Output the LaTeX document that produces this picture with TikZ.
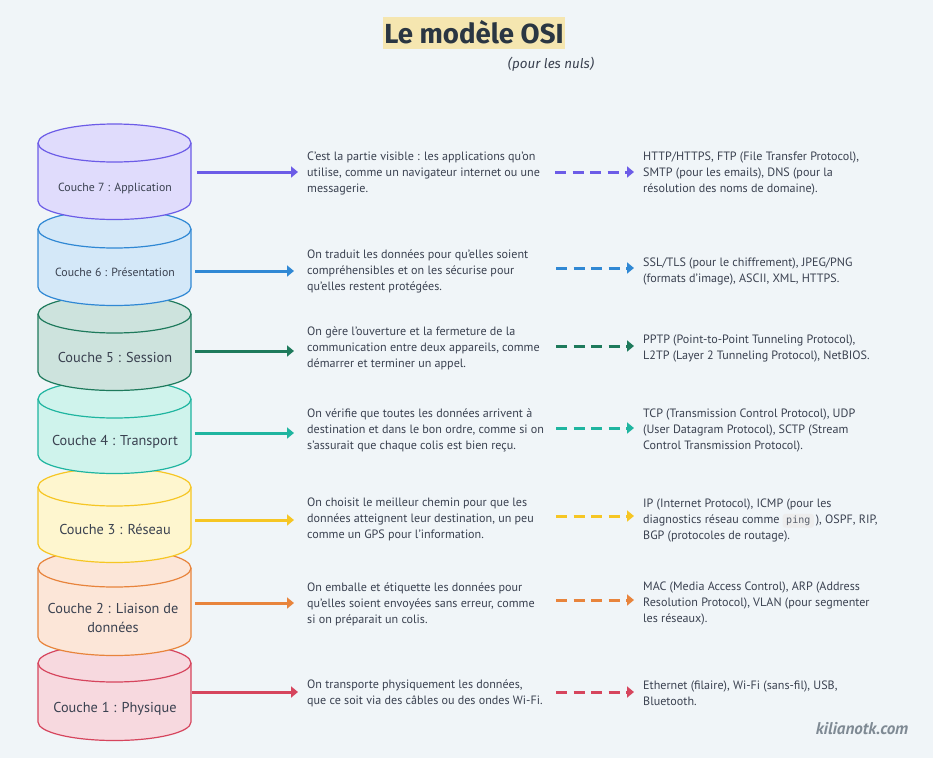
\documentclass[tikz,border=0pt]{standalone}
\usepackage{fontspec}
\setmainfont{PT Sans}
\setmonofont{DejaVu Sans Mono}
\newfontfamily\firaf{Fira Sans}
\usetikzlibrary{arrows.meta}
\definecolor{bgc}{HTML}{F0F5F8}
\definecolor{txt}{HTML}{3A4150}
\definecolor{hl}{HTML}{F5E6B0}
\definecolor{ttl}{HTML}{2A3642}
\definecolor{webc}{HTML}{7F8A94}
\definecolor{c7}{HTML}{6C5CE7}\definecolor{f7}{HTML}{E0DCFC}
\definecolor{c6}{HTML}{3088D4}\definecolor{f6}{HTML}{D4E8F8}
\definecolor{c5}{HTML}{1E7A5C}\definecolor{f5}{HTML}{CDE3DD}
\definecolor{c4}{HTML}{1FB5A0}\definecolor{f4}{HTML}{CFF3EC}
\definecolor{c3}{HTML}{F6C624}\definecolor{f3}{HTML}{FEF6CF}
\definecolor{c2}{HTML}{E8843C}\definecolor{f2}{HTML}{FCE6D8}
\definecolor{c1}{HTML}{D6455D}\definecolor{f1}{HTML}{F7D9DF}
\tikzset{
  x=1pt,y=-1pt,
  lay/.style={font=\fontsize{14.3}{19.5}\selectfont,text=txt,align=center,inner sep=0pt},
  laysmall/.style={font=\fontsize{11.8}{15}\selectfont,text=txt,align=center,inner sep=0pt},
  para/.style={font=\fontsize{12.1}{16}\selectfont,text=txt,align=left,anchor=west,inner sep=0pt},
  solidarrow/.style={line width=3pt,-{Triangle[length=7pt,width=11pt]}},
  dasharrow/.style={line width=3pt,dash pattern=on 11pt off 6.5pt,-{Triangle[length=7pt,width=11pt]}},
}
\newcommand{\cyl}[3]{%
  \fill[f#1] (38,#2) arc[start angle=180,end angle=360,x radius=76.5,y radius=19] -- (191,#3) arc[start angle=0,end angle=180,x radius=76.5,y radius=18.5] -- cycle;
  \draw[c#1,line width=1.2pt,line join=round] (38,#2) arc[start angle=180,end angle=360,x radius=76.5,y radius=19] -- (191,#3) arc[start angle=0,end angle=180,x radius=76.5,y radius=18.5] -- cycle;
  \draw[c#1,line width=1.2pt] (38,#2) arc[start angle=180,end angle=0,x radius=76.5,y radius=19];
}
\newcommand{\ping}{\tikz[baseline=(p.base)]\node[fill=black!7,rounded corners=2.5pt,inner xsep=3.5pt,inner ysep=2pt,text=txt!85] (p) {\fontsize{10}{11}\ttfamily ping};}
\begin{document}
\begin{tikzpicture}
\useasboundingbox (0,0) rectangle (933,758);
\fill[bgc] (0,0) rectangle (933,758);
% title
\node[fill=hl,minimum width=182pt,minimum height=32pt,inner sep=0pt] (hlbox) at (474,33) {};
\node[inner sep=0pt,text=ttl,font=\firaf\fontsize{27.6}{30}\selectfont\bfseries] (title) at (474,32) {Le modèle OSI};
\node[font=\firaf\fontsize{13.4}{14}\selectfont\itshape,text=txt,inner sep=0pt] (sub) at (551,64.5) {(pour les nuls)};
% cylinders, bottom to top
\cyl{1}{663}{722}
\cyl{2}{568}{637}
\cyl{3}{487}{544}
\cyl{4}{399}{455}
\cyl{5}{314}{372}
\cyl{6}{229}{287}
\cyl{7}{143}{201}
% labels
\node[laysmall] (L7) at (115,188) {Couche 7 : Application};
\node[laysmall] (L6) at (115,272.5) {Couche 6 : Présentation};
\node[lay] (L5) at (115,357.5) {Couche 5 : Session};
\node[lay] (L4) at (115,441.5) {Couche 4 : Transport};
\node[lay] (L3) at (115,529.5) {Couche 3 : Réseau};
\node[lay] (L2) at (113,618) {Couche 2 : Liaison de\\données};
\node[lay] (L1) at (115,708.5) {Couche 1 : Physique};
% descriptions
\node[para] (D7) at (307,173.5) {C'est la partie visible : les applications qu'on\\utilise, comme un navigateur internet ou une\\messagerie.};
\node[para] (D6) at (307,271.5) {On traduit les données pour qu'elles soient\\compréhensibles et on les sécurise pour\\qu'elles restent protégées.};
\node[para] (D5) at (307,348) {On gère l'ouverture et la fermeture de la\\communication entre deux appareils, comme\\démarrer et terminer un appel.};
\node[para] (D4) at (307,430.5) {On vérifie que toutes les données arrivent à\\destination et dans le bon ordre, comme si on\\s'assurait que chaque colis est bien reçu.};
\node[para] (D3) at (307,519.5) {On choisit le meilleur chemin pour que les\\données atteignent leur destination, un peu\\comme un GPS pour l'information.};
\node[para] (D2) at (307,604.5) {On emballe et étiquette les données pour\\qu'elles soient envoyées sans erreur, comme\\si on préparait un colis.};
\node[para] (D1) at (307,693.5) {On transporte physiquement les données,\\que ce soit via des câbles ou des ondes Wi-Fi.};
% protocols
\node[para] (P7) at (643,173.5) {HTTP/HTTPS, FTP (File Transfer Protocol),\\SMTP (pour les emails), DNS (pour la\\résolution des noms de domaine).};
\node[para] (P6) at (643,271.5) {SSL/TLS (pour le chiffrement), JPEG/PNG\\(formats d'image), ASCII, XML, HTTPS.};
\node[para] (P5) at (643,348.5) {PPTP (Point-to-Point Tunneling Protocol),\\L2TP (Layer 2 Tunneling Protocol), NetBIOS.};
\node[para] (P4) at (643,430.5) {TCP (Transmission Control Protocol), UDP\\(User Datagram Protocol), SCTP (Stream\\Control Transmission Protocol).};
\node[para,align=left] (P3) at (643,520.5) {IP (Internet Protocol), ICMP (pour les\\diagnostics réseau comme \ping{}\,), OSPF, RIP,\\BGP (protocoles de routage).};
\node[para] (P2) at (643,603.5) {MAC (Media Access Control), ARP (Address\\Resolution Protocol), VLAN (pour segmenter\\les réseaux).};
\node[para] (P1) at (643,693.5) {Ethernet (filaire), Wi-Fi (sans-fil), USB,\\Bluetooth.};
% connector ends
\coordinate (S7) at (197,172); \coordinate (E7) at (298,172); \coordinate (F7) at (555,172); \coordinate (G7) at (634,172);
\coordinate (S6) at (195,271); \coordinate (E6) at (294,271); \coordinate (F6) at (556,268); \coordinate (G6) at (634,268);
\coordinate (S5) at (195,351); \coordinate (E5) at (294,351); \coordinate (F5) at (556,346); \coordinate (G5) at (634,346);
\coordinate (S4) at (195,433); \coordinate (E4) at (294,433); \coordinate (F4) at (556,428); \coordinate (G4) at (634,428);
\coordinate (S3) at (195,520); \coordinate (E3) at (294,520); \coordinate (F3) at (556,516); \coordinate (G3) at (634,516);
\coordinate (S2) at (195,603); \coordinate (E2) at (294,603); \coordinate (F2) at (556,600); \coordinate (G2) at (634,600);
\coordinate (S1) at (192,692); \coordinate (E1) at (298,692); \coordinate (F1) at (556,692); \coordinate (G1) at (634,692);
\foreach \n in {1,...,7}{
  \draw[solidarrow,c\n] (S\n) -- (E\n);
  \draw[dasharrow,c\n] (F\n) -- (G\n);
}
\node[font=\fontsize{17}{19}\selectfont\itshape\bfseries,text=webc,inner sep=0pt] (web) at (862,729) {kilianotk.com};
\end{tikzpicture}
\end{document}
